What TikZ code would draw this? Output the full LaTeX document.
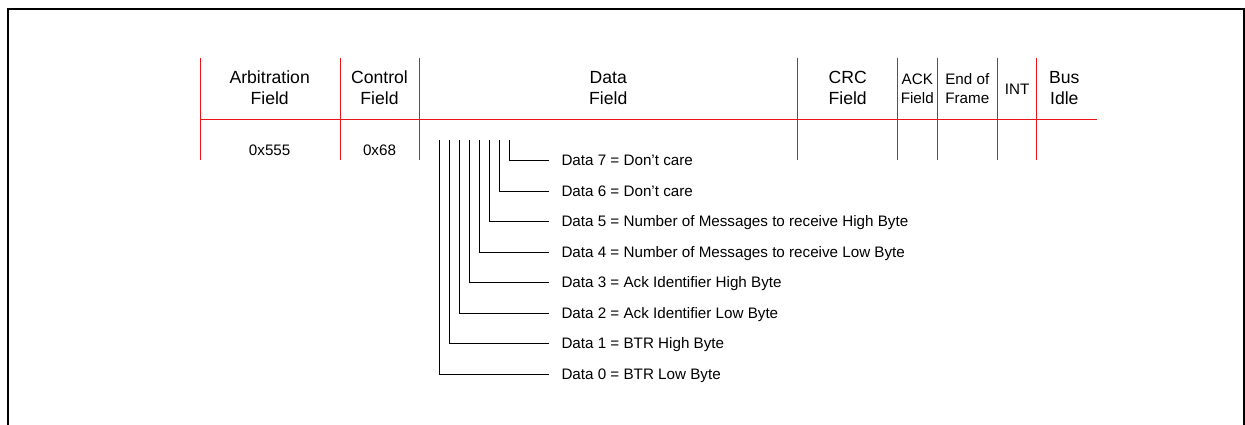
\documentclass[tikz,border=0pt]{standalone}
\usepackage{fontspec}
\setmainfont{Liberation Sans}
\definecolor{fieldred}{RGB}{235,20,24}
\newcommand{\hdrfont}{\fontsize{17.6}{21}\selectfont}
\newcommand{\lblfont}{\fontsize{15.2}{18}\selectfont}
\tikzset{
  frameline/.style={line width=1.7pt, black},
  fieldline/.style={line width=1pt, fieldred},
  bracket/.style={line width=0.9pt, black},
  hdr/.style={anchor=base, inner sep=0pt, font=\hdrfont},
  hdrsmall/.style={anchor=base, inner sep=0pt, font=\lblfont},
  val/.style={anchor=base, inner sep=0pt, font=\lblfont},
  datalbl/.style={anchor=west, inner xsep=12pt, inner ysep=0pt,
                  text height=12pt, text depth=2pt, font=\lblfont},
}
\begin{document}
\begin{tikzpicture}[x=1pt,y=-1pt]
\useasboundingbox (0,0) rectangle (1245,425);
\clip (0,0) rectangle (1245,425);

% outer frame (open towards the bottom edge)
\draw[frameline] (8.2,440) -- (8.2,9.2) -- (1244.1,9.2) -- (1244.1,440);

% field separators
\foreach \fx in {200.7,340,419.3,797.7,897.7,937.3,997.3,1036.7}
  \draw[fieldline] (\fx,58) -- (\fx,160);
\draw[fieldline] (200.7,119.3) -- (1096.7,119.3);

% field headings
\node[hdr] (arbA) at (269.7,84) {Arbitration};
\node[hdr] (arbB) at (269.7,105) {Field};
\node[hdr] (ctlA) at (379.5,84) {Control};
\node[hdr] (ctlB) at (379.5,105) {Field};
\node[hdr] (datA) at (608.3,84) {Data};
\node[hdr] (datB) at (608.3,105) {Field};
\node[hdr] (crcA) at (847.7,84) {CRC};
\node[hdr] (crcB) at (847.7,105) {Field};
\node[hdrsmall] (ackA) at (917.3,84.3) {ACK};
\node[hdrsmall] (ackB) at (917.3,103.3) {Field};
\node[hdrsmall] (eofA) at (967.3,84.3) {End of};
\node[hdrsmall] (eofB) at (967.3,103.3) {Frame};
\node[hdrsmall] (intA) at (1017.2,94.3) {INT};
\node[hdr] (busA) at (1064.3,84) {Bus};
\node[hdr] (busB) at (1064.3,105) {Idle};

% field values
\node[val] (arbV) at (269.7,155.7) {0x555};
\node[val] (ctlV) at (379.5,155.7) {0x68};

% data byte descriptions
\node[datalbl] (d7) at (549.3,160.5) {Data 7 = Don’t care};
\node[datalbl] (d6) at (549.3,191.0) {Data 6 = Don’t care};
\node[datalbl] (d5) at (549.3,221.6) {Data 5 = Number of Messages to receive High Byte};
\node[datalbl] (d4) at (549.3,252.2) {Data 4 = Number of Messages to receive Low Byte};
\node[datalbl] (d3) at (549.3,282.7) {Data 3 = Ack Identifier High Byte};
\node[datalbl] (d2) at (549.3,313.3) {Data 2 = Ack Identifier Low Byte};
\node[datalbl] (d1) at (549.3,343.8) {Data 1 = BTR High Byte};
\node[datalbl] (d0) at (549.3,374.4) {Data 0 = BTR Low Byte};

% bracket stems, one per data byte
\foreach \i in {0,...,7} {
  \coordinate (t\i) at ({439.3+10*\i},140);
  \draw[bracket] (t\i) |- (d\i.west);
}
\end{tikzpicture}
\end{document}
